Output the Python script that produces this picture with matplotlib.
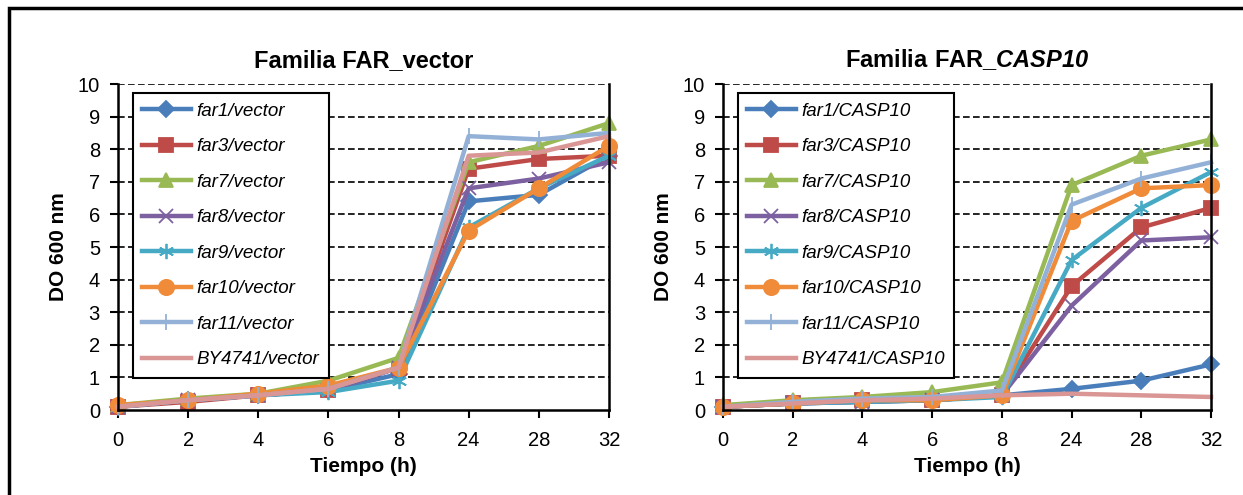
import matplotlib
matplotlib.use('Agg')
import matplotlib.pyplot as plt
from matplotlib.patches import Rectangle

plt.rcParams['font.family'] = ['Liberation Sans', 'DejaVu Sans']
plt.rcParams['mathtext.fontset'] = 'custom'
plt.rcParams['mathtext.rm'] = 'Liberation Sans'
plt.rcParams['mathtext.bf'] = 'Liberation Sans:bold'
plt.rcParams['mathtext.bfit'] = 'Liberation Sans:italic:bold'

horas = ['0', '2', '4', '6', '8', '24', '28', '32']
cepas = ['far1', 'far3', 'far7', 'far8', 'far9', 'far10', 'far11', 'BY4741']

vector = [
    [0.1, 0.3, 0.45, 0.6, 1.1, 6.4, 6.6, 7.8],
    [0.1, 0.25, 0.45, 0.6, 1.3, 7.4, 7.7, 7.8],
    [0.15, 0.35, 0.5, 0.9, 1.6, 7.6, 8.1, 8.8],
    [0.1, 0.3, 0.45, 0.6, 1.3, 6.8, 7.1, 7.6],
    [0.1, 0.3, 0.45, 0.55, 0.9, 5.6, 6.8, 7.8],
    [0.15, 0.3, 0.5, 0.75, 1.3, 5.5, 6.8, 8.1],
    [0.1, 0.3, 0.45, 0.65, 1.3, 8.4, 8.3, 8.5],
    [0.1, 0.3, 0.45, 0.65, 1.3, 7.8, 7.9, 8.4],
]
casp10 = [
    [0.1, 0.2, 0.25, 0.3, 0.45, 0.65, 0.9, 1.4],
    [0.1, 0.2, 0.3, 0.3, 0.45, 3.8, 5.6, 6.2],
    [0.15, 0.3, 0.4, 0.55, 0.85, 6.9, 7.8, 8.3],
    [0.1, 0.2, 0.25, 0.3, 0.45, 3.2, 5.2, 5.3],
    [0.1, 0.2, 0.25, 0.3, 0.4, 4.6, 6.2, 7.3],
    [0.1, 0.2, 0.3, 0.3, 0.45, 5.8, 6.8, 6.9],
    [0.1, 0.25, 0.35, 0.4, 0.6, 6.3, 7.1, 7.6],
    [0.1, 0.2, 0.3, 0.35, 0.45, 0.5, 0.45, 0.4],
]

colores = ['#4A7EBB', '#BE4B48', '#98B954', '#7D60A0', '#46AAC5', '#F08B3A', '#93B1D6', '#D99694']
marcas = ['D', 's', '^', 'x', (6, 2, 0), 'o', '|', None]
tam = [8, 10, 10, 10, 11, 11, 12, 0]


def panel(ax, datos, sufijo, titulo):
    x = range(len(horas))
    for i, y in enumerate(datos):
        ax.plot(x, y, color=colores[i], lw=3.2, marker=marcas[i], markersize=tam[i],
                markeredgewidth=1.3, label=cepas[i] + '/' + sufijo, clip_on=False)
    ax.set_xlim(0, 7)
    ax.set_ylim(0, 10)
    ax.set_xticks(list(x))
    ax.set_xticklabels(horas)
    ax.set_yticks(range(11))
    ax.tick_params(direction='out', length=6, width=1.5, labelsize=14.5, pad=9)
    ax.tick_params(axis='y', pad=7)
    for y in range(1, 11):
        ax.axhline(y, color='black', ls=(0, (4, 2)), lw=1.2, zorder=0)
    ax.spines['top'].set_visible(False)
    for s in ['left', 'bottom', 'right']:
        ax.spines[s].set_linewidth(1.8)
    ax.set_xlabel('Tiempo (h)', fontsize=15, fontweight='bold', labelpad=5)
    ax.set_ylabel('DO 600 nm', fontsize=15, fontweight='bold', labelpad=7)
    ax.set_title(titulo, fontsize=17, fontweight='bold', pad=12)
    leg = ax.legend(loc='upper left', bbox_to_anchor=(0.03, 0.972), fancybox=False,
                    prop={'style': 'italic', 'size': 13.5}, labelspacing=0.98,
                    handlelength=2.6, handletextpad=0.3, borderpad=0.5,
                    borderaxespad=0, framealpha=1)
    leg.get_frame().set_edgecolor('black')
    leg.get_frame().set_linewidth(1.5)


fig = plt.figure(figsize=(12.43, 4.95), dpi=100)
ax1 = fig.add_axes([0.0949, 0.1717, 0.395, 0.6586])
ax2 = fig.add_axes([0.5817, 0.1717, 0.3926, 0.6586])
panel(ax1, vector, 'vector', 'Familia FAR_vector')
panel(ax2, casp10, 'CASP10', r'$\mathbf{Familia\ FAR\_}\mathbfit{CASP10}$')

fig.patches.append(Rectangle((9 / 1243, -0.1), 1.1, 1 - 8 / 495 + 0.1, transform=fig.transFigure,
                             fill=False, edgecolor='black', lw=2.5))

fig.savefig('out.png', dpi=100)
